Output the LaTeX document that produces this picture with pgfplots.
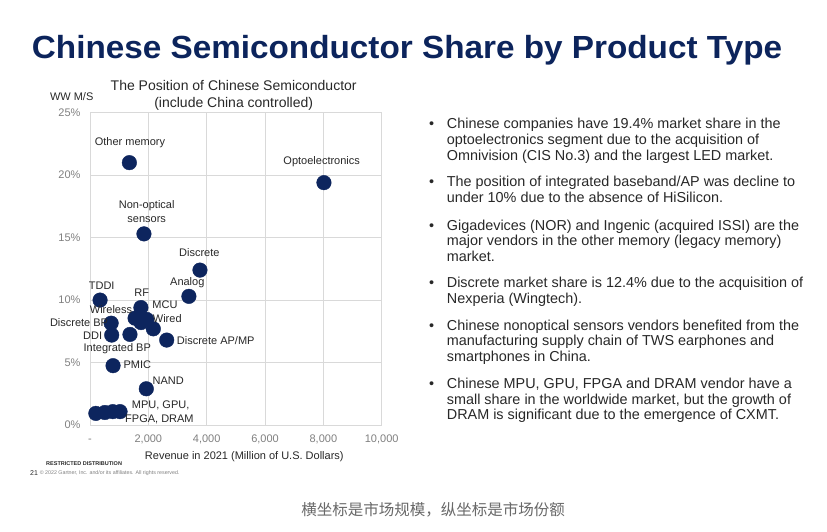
\documentclass[border=0pt]{standalone}
\usepackage{fontspec}
\setmainfont{Liberation Sans}
\newfontfamily\cjk{Noto Sans CJK SC}
\usepackage{pgfplots}
\usepackage{pgfplotstable}
\pgfplotsset{compat=1.18}

\definecolor{navy}{RGB}{13,37,94}
\definecolor{titlec}{RGB}{12,36,92}
\definecolor{txt}{RGB}{40,40,40}
\definecolor{tickc}{RGB}{128,128,128}
\definecolor{gridc}{RGB}{217,217,217}

% revenue 2021 (M USD) vs. WW market share (%)
\pgfplotstableread{
x    y
8020 19.4
1350 21.0
1850 15.3
3770 12.4
3390 10.3
345  10.0
1745 9.4
1545 8.55
1945 8.45
1750 8.2
2170 7.7
725  8.15
745  7.2
1370 7.25
2630 6.8
790  4.75
1930 2.9
1030 1.07
780  1.07
510  1.0
200  0.93
}\mkt

\newcommand\fs[1]{\fontsize{#1}{#1}\selectfont}
\newcommand\lbl[4][center]{\node[anchor=#1,inner sep=0pt,font=\fs{11},text=txt] at (#2,{531-#3}) {#4};}
\newcommand\bl[2]{\node[anchor=base west,inner sep=0pt,font=\fs{14.4},text=txt] at (446.7,{531-#1}) {#2};}
\newcommand\bu[1]{\node[anchor=base,inner sep=0pt,font=\fs{14.4},text=txt] at (431.7,{531-#1}) {\textbullet};}

\begin{document}
\begin{tikzpicture}[x=1pt,y=1pt]
\fill[white] (0,0) rectangle (827,531);

\node[anchor=base west,inner sep=0pt,font=\bfseries\fs{32},text=titlec,xscale=1.04] at (31.7,472.7)
  {Chinese Semiconductor Share by Product Type};

\begin{axis}[
    at={(90pt,106pt)}, anchor=south west,
    scale only axis, width=291.7pt, height=312.3pt,
    xmin=0, xmax=10000, ymin=0, ymax=25,
    scaled x ticks=false,
    xtick={0,2000,...,10000},
    xticklabels={-,{2,000},{4,000},{6,000},{8,000},{10,000}},
    ytick={0,5,...,25},
    yticklabels={0\%,5\%,10\%,15\%,20\%,25\%},
    grid=major,
    grid style={gridc, line width=0.8pt},
    axis line style={gridc, line width=0.8pt},
    major tick length=0pt,
    tick label style={font=\fs{11}, text=tickc},
    yticklabel style={anchor=east, inner sep=0pt, xshift=-9.3pt},
    xticklabel style={anchor=north, inner sep=0pt, yshift=-9.3pt, text height=8pt, text depth=2pt},
    clip=false,
]
\addplot[only marks, mark=*, mark size=7.3pt, navy] table {\mkt};
\end{axis}

% chart texts
\node[align=center,inner sep=0pt,font=\fontsize{14}{17.6}\selectfont,text=txt] at (233.7,{531-95.5})
  {The Position of Chinese Semiconductor\\(include China controlled)};
\lbl{71.7}{96.7}{WW M/S}
\lbl{244.3}{456.7}{Revenue in 2021 (Million of U.S. Dollars)}

% point labels
\lbl{130}{142.7}{Other memory}
\lbl{321.7}{161.7}{Optoelectronics}
\node[align=center,inner sep=0pt,font=\fontsize{11}{13.3}\selectfont,text=txt] at (146.7,{531-211.7}) {Non-optical\\sensors};
\lbl{199.3}{252.7}{Discrete}
\lbl{187.3}{282.7}{Analog}
\lbl{101.7}{286}{TDDI}
\lbl{141.7}{292.7}{RF}
\lbl{165}{305}{MCU}
\lbl{111}{310}{Wireless}
\lbl[west]{152.7}{318.3}{Wired}
\lbl[east]{108.3}{322.7}{Discrete BP}
\lbl[east]{102.3}{336}{DDI}
\lbl{117.3}{349}{Integrated BP}
\lbl[west]{176.7}{340.7}{Discrete AP/MP}
\lbl[west]{123.3}{364.5}{PMIC}
\lbl{168.3}{381}{NAND}
\lbl[west]{131.7}{405}{MPU, GPU,}
\lbl[west]{125}{419.3}{FPGA, DRAM}

% bullets
\bu{129}
\bl{129}{Chinese companies have 19.4\% market share in the}
\bl{144.8}{optoelectronics segment due to the acquisition of}
\bl{160.6}{Omnivision (CIS No.3) and the largest LED market.}
\bu{186.7}
\bl{186.7}{The position of integrated baseband/AP was decline to}
\bl{202.8}{under 10\% due to the absence of HiSilicon.}
\bu{230}
\bl{230}{Gigadevices (NOR) and Ingenic (acquired ISSI) are the}
\bl{245.9}{major vendors in the other memory (legacy memory)}
\bl{261.7}{market.}
\bu{287.7}
\bl{287.7}{Discrete market share is 12.4\% due to the acquisition of}
\bl{303.3}{Nexperia (Wingtech).}
\bu{330}
\bl{330}{Chinese nonoptical sensors vendors benefited from the}
\bl{345.7}{manufacturing supply chain of TWS earphones and}
\bl{361.3}{smartphones in China.}
\bu{388.3}
\bl{388.3}{Chinese MPU, GPU, FPGA and DRAM vendor have a}
\bl{404}{small share in the worldwide market, but the growth of}
\bl{419.7}{DRAM is significant due to the emergence of CXMT.}

% footer
\node[anchor=west,inner sep=0pt,font=\bfseries\fs{5.5},text=txt] at (46,{531-464}) {RESTRICTED DISTRIBUTION};
\node[anchor=west,inner sep=0pt,font=\fs{7},text=txt] at (30,{531-473}) {21};
\node[anchor=west,inner sep=0pt,font=\fs{5.3},text=tickc] at (39.6,{531-473}) {\textcopyright{} 2022 Gartner, Inc. and/or its affiliates. All rights reserved.};

\node[inner sep=0pt,font=\cjk\fs{15.5},text={rgb,255:red,105;green,105;blue,105}] at (433,{531-510}) {横坐标是市场规模，纵坐标是市场份额};
\end{tikzpicture}
\end{document}
